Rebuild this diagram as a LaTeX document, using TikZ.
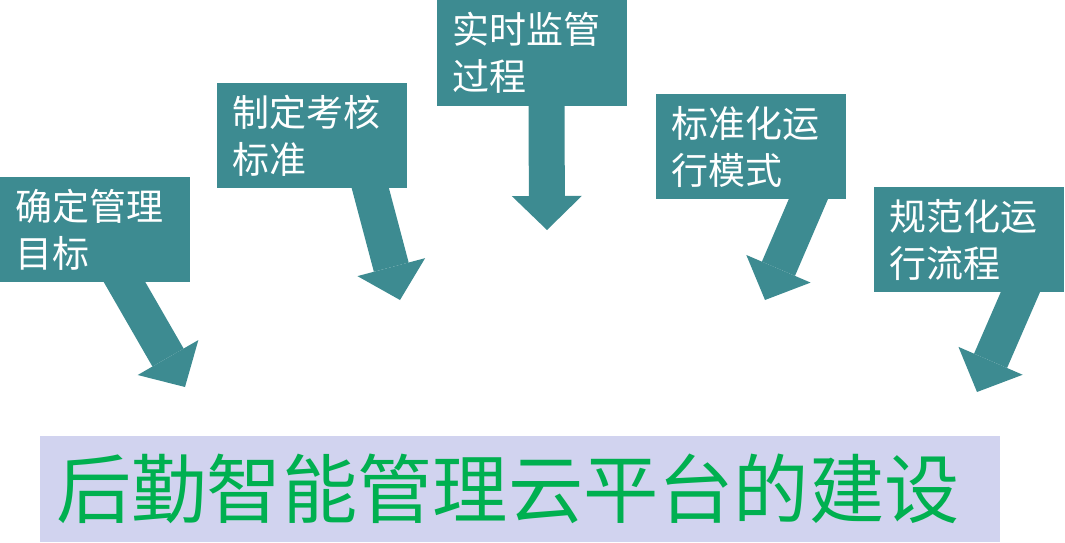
\documentclass[tikz,border=0pt]{standalone}
\usepackage{fontspec}
\newfontfamily\cjk{Noto Sans CJK SC}
\usetikzlibrary{arrows.meta,calc}
\definecolor{teal1}{RGB}{61,139,145}
\definecolor{lav}{RGB}{209,211,239}
\definecolor{grn}{RGB}{0,176,80}
\tikzset{
  tbox/.style={rectangle, fill=teal1, anchor=north west, minimum width=190pt, minimum height=105pt,
    text width=160pt, inner xsep=15pt, inner ysep=0pt, align=left, text=white,
    font=\cjk\fontsize{37}{47}\selectfont},
  bigarrow/.style={draw=teal1, line width=36pt, -{Triangle[length=34pt,width=70pt,line width=0pt]}},
}
\begin{document}
\begin{tikzpicture}[x=1pt,y=-1pt]
\useasboundingbox (0,0) rectangle (1065,543);
% base and tip coordinates
\coordinate (c1) at (124.5,282); \coordinate (t1) at (185,387);
\coordinate (c2) at (370,187);   \coordinate (t2) at (400,300);
\coordinate (c3) at (546.5,105); \coordinate (t3) at (547,230);
\coordinate (c4) at (808,200);   \coordinate (t4) at (765,300);
\coordinate (c5) at (1020,293);  \coordinate (t5) at (977,392);
\foreach \i in {1,...,5}{
  \draw[bigarrow] ($(c\i)!-0.25!(t\i)$) -- (t\i);
}
\node[tbox] (b1) at (0,177) {确定管理\\目标};
\node[tbox] (b2) at (217,83) {制定考核\\标准};
\node[tbox, minimum height=106pt] (b3) at (437,0) {实时监管\\过程};
\node[tbox] (b4) at (656,94) {标准化运\\行模式};
\node[tbox] (b5) at (874,187) {规范化运\\行流程};
\node[rectangle, fill=lav, anchor=north west, minimum width=960pt, minimum height=106pt, inner sep=0pt] (banner) at (40,436) {};
\node[anchor=west, inner sep=0pt, text=grn, font=\cjk\fontsize{75.3}{84}\selectfont] (title) at ($(banner.west)+(16,0)$) {后勤智能管理云平台的建设};
\end{tikzpicture}
\end{document}
